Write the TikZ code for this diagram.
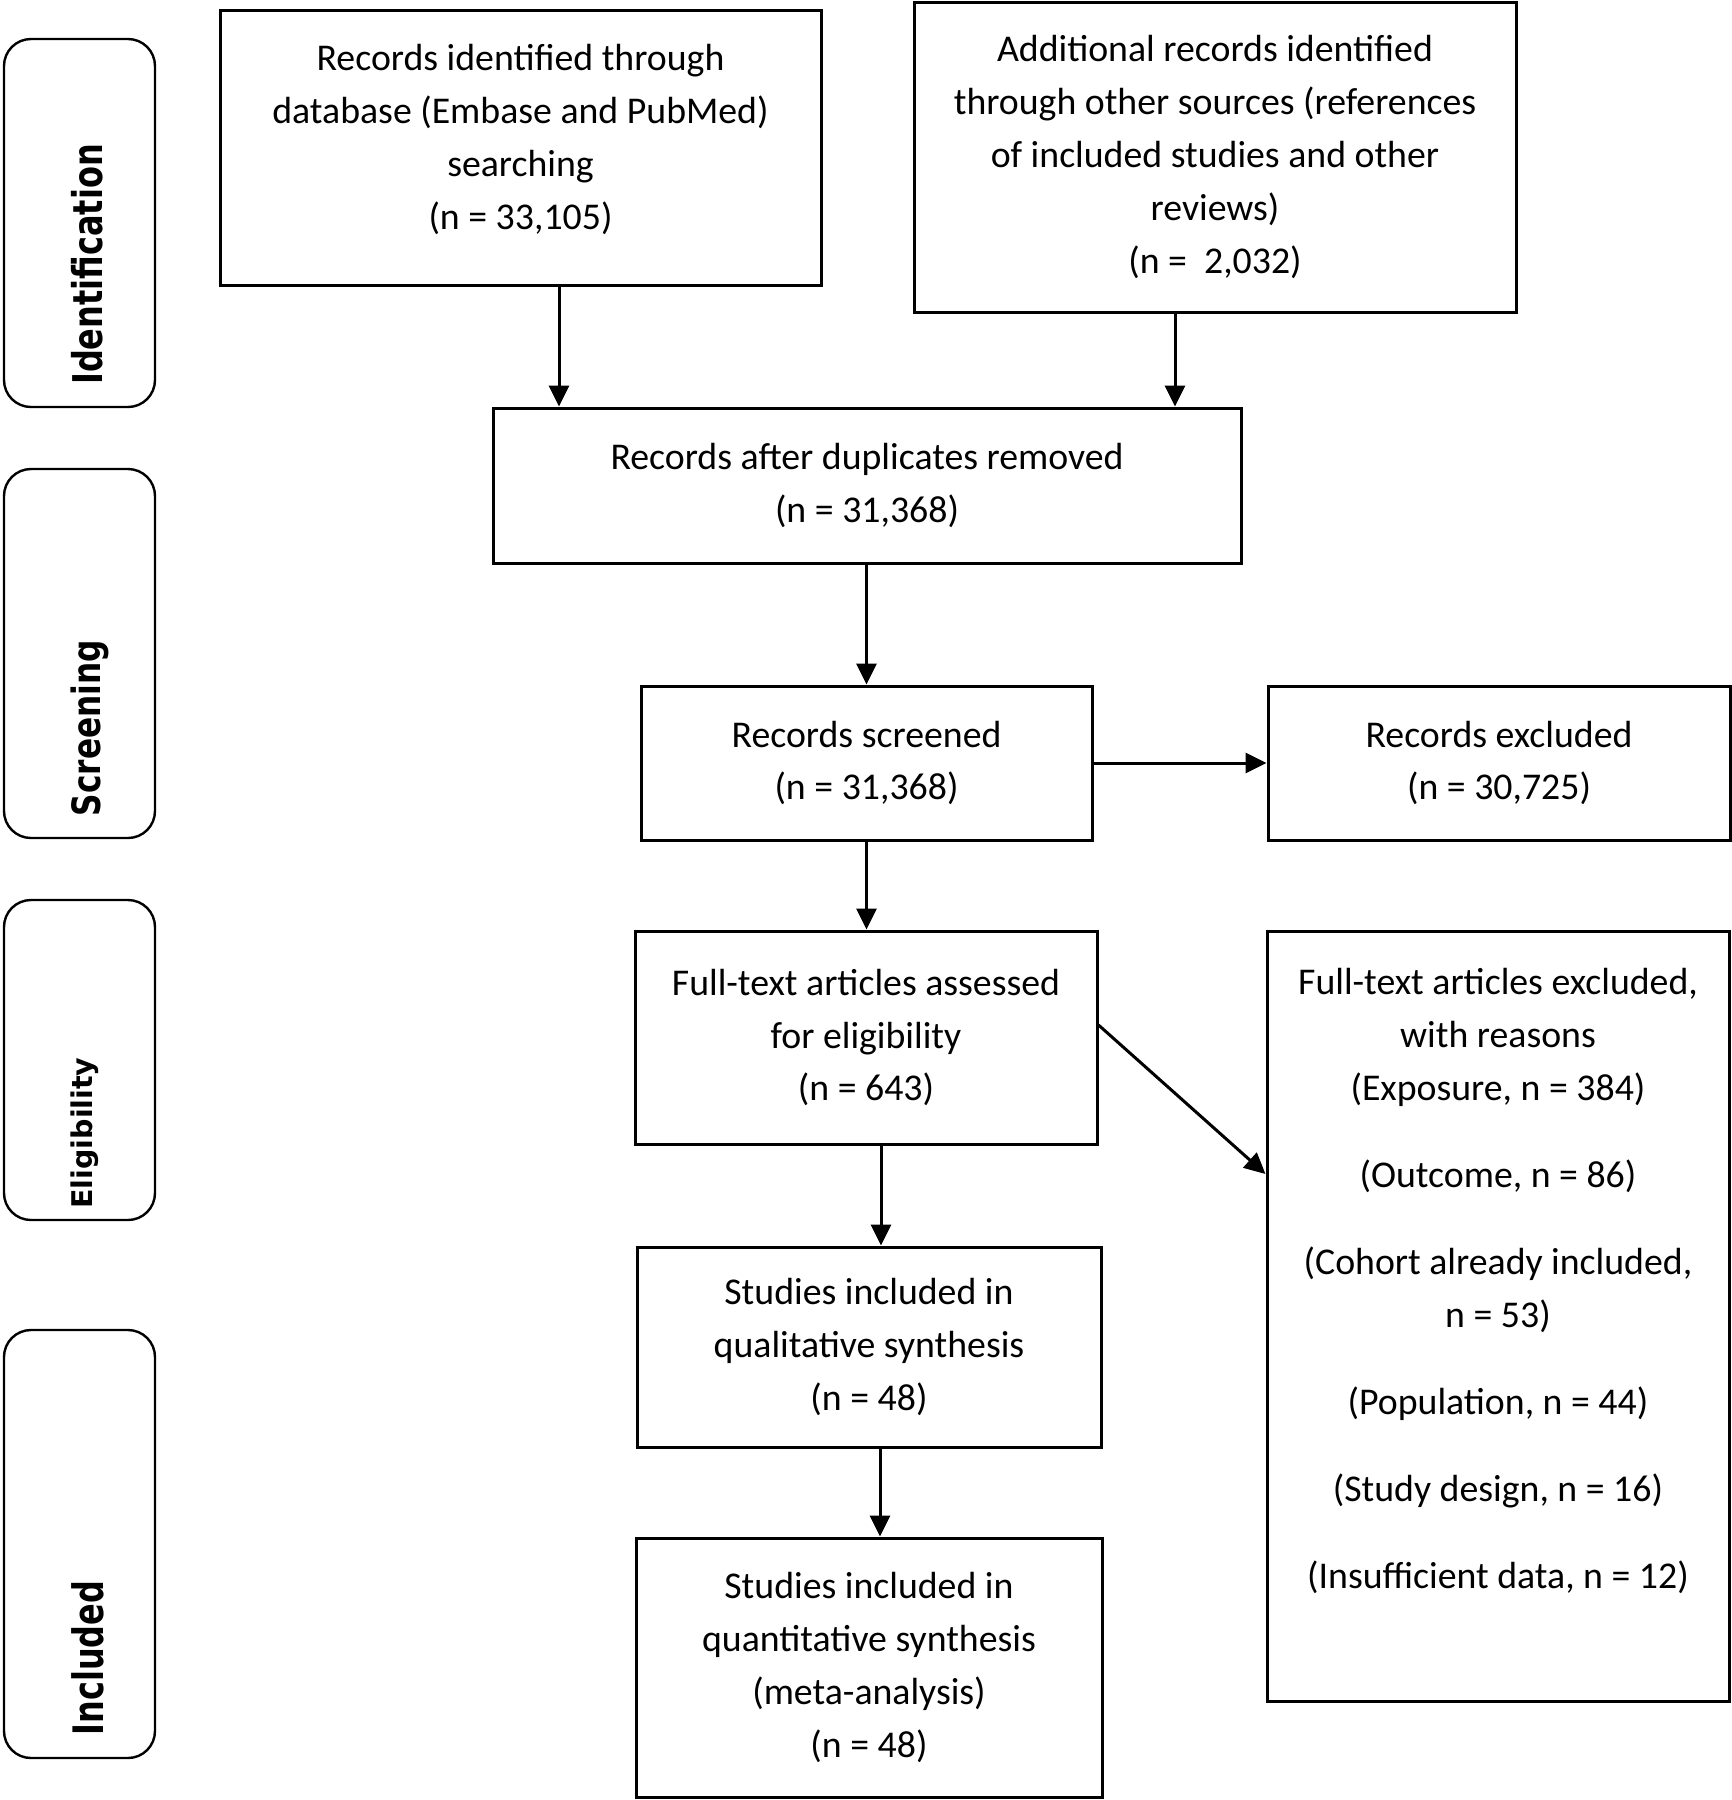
\documentclass[tikz,border=0pt]{standalone}
\usepackage{fontspec}
\usepackage{graphicx}
\setmainfont{Carlito}
\newfontfamily\lblfont{DejaVu Sans}
\usetikzlibrary{arrows.meta}
\begin{document}
\begin{tikzpicture}[x=1pt,y=-1pt,
  box/.style={draw, line width=3pt, align=center, inner sep=0pt,
    font=\fontsize{37.8}{52.8}\selectfont},
  phase/.style={draw, line width=2.4pt, rounded corners=27pt, inner sep=0pt,
    minimum width=151pt},
  phaselbl/.style={rotate=90, anchor=north, inner sep=0pt},
  arr/.style={line width=3pt, -{Triangle[length=21pt,width=20pt]}}]
\useasboundingbox (0,0) rectangle (1732,1800);

% phase boxes
\node[phase, minimum height=368pt] (idbox) at (79.5,223) {};
\node[phase, minimum height=369pt] (scbox) at (79.5,653.5) {};
\node[phase, minimum height=320pt] (elbox) at (79.5,1060) {};
\node[phase, minimum height=428pt] (inbox) at (79.5,1544) {};

\node[phaselbl, font=\lblfont\bfseries\fontsize{41}{41}\selectfont] (idlbl) at (71,264.5) {\scalebox{0.78}[1]{Identification}};
\node[phaselbl, font=\lblfont\bfseries\fontsize{39}{39}\selectfont] (sclbl) at (71,728) {\scalebox{0.8}[1]{Screening}};
\node[phaselbl, font=\lblfont\bfseries\fontsize{28.5}{28.5}\selectfont] (ellbl) at (71,1133) {Eligibility};
\node[phaselbl, font=\lblfont\bfseries\fontsize{42}{42}\selectfont] (inlbl) at (71,1658) {\scalebox{0.76}[1]{Included}};

% flow boxes
\node[box, minimum width=601pt, minimum height=275pt] (recdb) at (520.5,147.5)
  {Records identified through\\database (Embase and PubMed)\\searching\\(n = 33,105)\\[-31.6pt]\mbox{}};
\node[box, minimum width=602pt, minimum height=310pt] (recother) at (1215,157)
  {Additional records identified\\through other sources (references\\of included studies and other\\reviews)\\(n = \ 2,032)};
\node[box, minimum width=748pt, minimum height=155pt] (dup) at (867,485.5)
  {Records after duplicates removed\\(n = 31,368)};
\node[box, minimum width=451pt, minimum height=154pt] (screened) at (866.5,763)
  {Records screened\\(n = 31,368)};
\node[box, minimum width=462pt, minimum height=154pt] (excluded) at (1499,763)
  {Records excluded\\(n = 30,725)};
\node[box, minimum width=462pt, minimum height=213pt] (fulltext) at (866,1037.5)
  {Full-text articles assessed\\for eligibility\\(n = 643)};
\node[box, minimum width=462pt, minimum height=770pt] (ftexcl) at (1498,1316)
  {Full-text articles excluded,\\with reasons\\(Exposure, n = 384)\\[34.2pt](Outcome, n = 86)\\[34.2pt](Cohort already included,\\n = 53)\\[34.2pt](Population, n = 44)\\[34.2pt](Study design, n = 16)\\[34.2pt](Insufficient data, n = 12)\\[22.2pt]\mbox{}};
\node[box, minimum width=464pt, minimum height=200pt] (qual) at (869,1347)
  {Studies included in\\qualitative synthesis\\(n = 48)};
\node[box, minimum width=466pt, minimum height=259pt] (quant) at (869,1667.5)
  {Studies included in\\quantitative synthesis\\(meta-analysis)\\(n = 48)};

% connectors
\draw[arr] ([xshift=38.5pt]recdb.south) -- ([xshift=38.5pt]recdb.south |- dup.north);
\draw[arr] ([xshift=-40pt]recother.south) -- ([xshift=-40pt]recother.south |- dup.north);
\draw[arr] (dup.south -| screened.north) -- (screened.north);
\draw[arr] (screened.east) -- (screened.east -| excluded.west);
\draw[arr] (screened.south) -- (screened.south |- fulltext.north);
\draw[arr] ([yshift=12.5pt]fulltext.east) -- ([yshift=142pt]ftexcl.west);
\draw[arr] ([xshift=15pt]fulltext.south) -- ([xshift=15pt]fulltext.south |- qual.north);
\draw[arr] ([xshift=11pt]qual.south) -- ([xshift=11pt]qual.south |- quant.north);
\end{tikzpicture}
\end{document}
